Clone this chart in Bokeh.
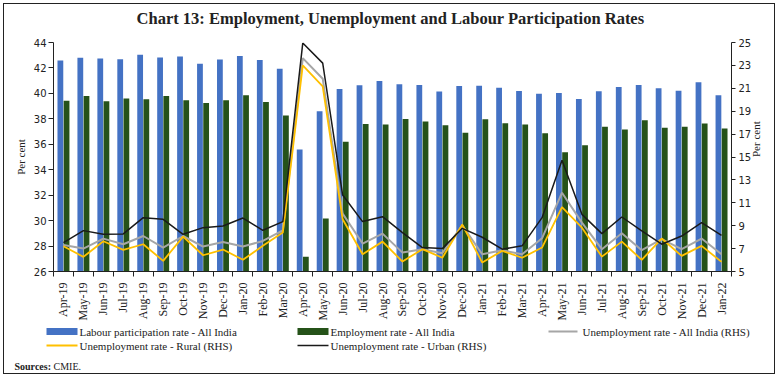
import numpy as np
from bokeh.plotting import figure
from bokeh.models import (Range1d, LinearAxis, FixedTicker, ColumnDataSource)
from bokeh.core.properties import value
from bokeh.embed import file_html
from bokeh.resources import INLINE

months = ["Apr-19", "May-19", "Jun-19", "Jul-19", "Aug-19", "Sep-19", "Oct-19",
          "Nov-19", "Dec-19", "Jan-20", "Feb-20", "Mar-20", "Apr-20", "May-20",
          "Jun-20", "Jul-20", "Aug-20", "Sep-20", "Oct-20", "Nov-20", "Dec-20",
          "Jan-21", "Feb-21", "Mar-21", "Apr-21", "May-21", "Jun-21", "Jul-21",
          "Aug-21", "Sep-21", "Oct-21", "Nov-21", "Dec-21", "Jan-22"]

lpr = [42.59, 42.80, 42.75, 42.69, 43.03, 42.82, 42.90, 42.33, 42.67, 42.93,
       42.63, 41.94, 35.59, 38.60, 40.34, 40.63, 40.97, 40.71, 40.66, 40.14,
       40.58, 40.61, 40.45, 40.18, 39.98, 40.03, 39.56, 40.16, 40.50, 40.66,
       40.40, 40.21, 40.87, 39.85]

emp = [39.43, 39.80, 39.38, 39.59, 39.54, 39.80, 39.46, 39.25, 39.46, 39.85,
       39.33, 38.26, 27.16, 30.16, 36.19, 37.60, 37.55, 37.99, 37.79, 37.50,
       36.90, 37.97, 37.66, 37.55, 36.87, 35.38, 35.93, 37.37, 37.16, 37.89,
       37.29, 37.37, 37.63, 37.24]

ur_all = [7.32, 7.00, 7.87, 7.38, 8.10, 7.09, 8.10, 7.18, 7.58, 7.18,
          7.67, 8.60, 23.64, 21.84, 10.05, 7.44, 8.31, 6.65, 6.95, 6.60,
          9.03, 6.51, 6.86, 6.50, 7.90, 11.88, 9.27, 6.95, 8.34, 6.86,
          7.82, 6.95, 7.88, 6.51]

ur_rural = [7.20, 6.28, 7.64, 6.89, 7.38, 5.93, 8.05, 6.42, 6.92, 6.02,
            7.24, 8.40, 23.00, 21.17, 9.56, 6.51, 7.61, 5.87, 6.95, 6.20,
            9.10, 5.78, 6.80, 6.20, 7.09, 10.63, 8.83, 6.30, 7.61, 6.02,
            7.88, 6.36, 7.24, 5.84]

ur_urban = [7.53, 8.57, 8.25, 8.28, 9.70, 9.56, 8.25, 8.83, 8.98, 9.67,
            8.60, 9.36, 24.95, 23.20, 11.68, 9.36, 9.79, 8.40, 7.09, 7.00,
            8.77, 7.99, 6.95, 7.24, 9.70, 14.72, 9.99, 8.31, 9.76, 8.54,
            7.38, 8.10, 9.27, 8.16]

left_ticks = list(range(26, 45, 2))
right_ticks = list(range(5, 26, 2))

series_labels = ["Labour participation rate - All India",
                 "Employment rate - All India",
                 "Unemployment rate - All India (RHS)",
                 "Unemployment rate - Rural (RHS)",
                 "Unemployment rate - Urban (RHS)"]
title_text = "Chart 13: Employment, Unemployment and Labour Participation Rates"

C_LPR, C_EMP, C_ALL, C_RUR, C_URB = "#4472C4", "#255219", "#A6A6A6", "#FFC000", "#1A1A1A"
TXT = "#222222"
BORDER = "1px solid #222"
SERIF = "Liberation Serif"
SANS = "DejaVu Sans"

n = len(months)
xs = np.arange(n)
src = ColumnDataSource(dict(x=xs, xl=xs - 0.155, xr=xs + 0.155, lpr=lpr, emp=emp,
                            ua=ur_all, ur=ur_rural, uu=ur_urban))

W = 772


def blank(height):
    fig = figure(width=W, height=height, output_backend="svg", toolbar_location=None,
                 x_range=Range1d(0, W), y_range=Range1d(height, 0),
                 x_axis_location=None, y_axis_location=None,
                 min_border_left=0, min_border_right=0, min_border_top=0,
                 min_border_bottom=0)
    fig.xgrid.visible = False
    fig.ygrid.visible = False
    fig.outline_line_color = None
    fig.border_fill_color = "white"
    fig.background_fill_color = "white"
    return fig


# ---- header with title ----
HH = 30
h = blank(HH)
h.text(x=[386], y=[14], text=[title_text], text_font=value(SERIF),
       text_font_style="bold", text_font_size="16.5px", text_color=TXT,
       text_align="center", text_baseline="middle")
h.styles = {"border-top": BORDER, "border-left": BORDER, "border-right": BORDER,
            "margin-left": "3px", "margin-top": "3px"}

# ---- main chart ----
p = figure(width=W, height=292, output_backend="svg", toolbar_location=None,
           x_range=Range1d(-0.5, n - 0.5), y_range=Range1d(26, 44),
           min_border_left=49, min_border_right=45, min_border_top=9,
           min_border_bottom=54)
p.extra_y_ranges = {"rhs": Range1d(5, 25)}
p.xgrid.visible = False
p.ygrid.visible = False
p.outline_line_color = None
p.background_fill_color = "white"
p.border_fill_color = "white"
p.styles = {"border-left": BORDER, "border-right": BORDER, "margin-left": "3px"}

p.vbar(x="xl", top="lpr", bottom=26, width=0.29, source=src,
       fill_color=C_LPR, line_color=None)
p.vbar(x="xr", top="emp", bottom=26, width=0.29, source=src,
       fill_color=C_EMP, line_color=None)
p.line("x", "ua", source=src, y_range_name="rhs", line_color=C_ALL, line_width=2)
p.line("x", "ur", source=src, y_range_name="rhs", line_color=C_RUR, line_width=1.8)
p.line("x", "uu", source=src, y_range_name="rhs", line_color=C_URB, line_width=1.5)

# x axis
xa = p.xaxis[0]
xa.ticker = FixedTicker(ticks=list(xs), minor_ticks=[i - 0.5 for i in range(n + 1)])
xa.major_label_overrides = {int(i): m for i, m in zip(xs, months)}
xa.major_label_orientation = np.pi / 2
xa.major_tick_out = 0
xa.major_tick_in = 0
xa.minor_tick_out = 5
xa.minor_tick_in = 0
xa.major_label_standoff = 6
xa.major_label_text_font = SERIF
xa.major_label_text_font_size = "12px"
xa.major_label_text_color = TXT
xa.axis_line_color = TXT
xa.minor_tick_line_color = TXT

# left axis
ya = p.yaxis[0]
ya.ticker = FixedTicker(ticks=left_ticks)
ya.major_tick_out = 5
ya.major_tick_in = 0
ya.minor_tick_line_color = None
ya.major_label_standoff = 2
ya.major_label_text_font = SANS
ya.major_label_text_font_size = "10px"
ya.major_label_text_color = TXT
ya.axis_label = "Per cent"
ya.axis_label_text_font = SERIF
ya.axis_label_text_font_size = "11px"
ya.axis_label_text_font_style = "normal"
ya.axis_label_text_color = TXT
ya.axis_label_standoff = 4
ya.axis_line_color = TXT
ya.major_tick_line_color = TXT

# right axis
ra = LinearAxis(y_range_name="rhs", ticker=FixedTicker(ticks=right_ticks))
ra.major_tick_out = 4
ra.major_tick_in = 0
ra.minor_tick_line_color = None
ra.major_label_standoff = 3
ra.major_label_text_font = SANS
ra.major_label_text_font_size = "10px"
ra.major_label_text_color = TXT
ra.axis_label = "Per cent"
ra.axis_label_text_font = SERIF
ra.axis_label_text_font_size = "11px"
ra.axis_label_text_font_style = "normal"
ra.axis_label_text_color = TXT
ra.axis_label_standoff = 2
ra.axis_line_color = TXT
ra.major_tick_line_color = TXT
if "axis_label_orientation" in ra.properties():
    ra.axis_label_orientation = np.pi / 2
p.add_layout(ra, "right")

# ---- footer: legend + source ----
FH = 49
f = blank(FH)
f.styles = {"border-bottom": BORDER, "border-left": BORDER, "border-right": BORDER,
            "margin-left": "3px"}

col_x = [42, 293, 544]
row_y = [6, 20]
sw = 31
f.quad(left=[col_x[0], col_x[1]], right=[col_x[0] + sw, col_x[1] + sw],
       top=[row_y[0] - 3.5] * 2, bottom=[row_y[0] + 3.5] * 2,
       fill_color=[C_LPR, C_EMP], line_color=None)
f.segment(x0=[col_x[2], col_x[0], col_x[1]], y0=[row_y[0], row_y[1], row_y[1]],
          x1=[col_x[2] + 29, col_x[0] + sw, col_x[1] + sw],
          y1=[row_y[0], row_y[1], row_y[1]],
          line_color=[C_ALL, C_RUR, C_URB], line_width=[2, 1.8, 1.5])
f.text(x=[col_x[0] + 33, col_x[1] + 33, col_x[2] + 34, col_x[0] + 33, col_x[1] + 33],
       y=[row_y[0], row_y[0], row_y[0], row_y[1], row_y[1]],
       text=series_labels, text_font=value(SERIF), text_font_size="11px",
       text_color=TXT, text_baseline="middle", text_align="left")
f.text(x=[10], y=[41], text=["Sources:"], text_font=value(SERIF),
       text_font_style="bold", text_font_size="10px", text_color=TXT,
       text_baseline="alphabetic")
f.text(x=[49], y=[41], text=["CMIE."], text_font=value(SERIF),
       text_font_size="10px", text_color=TXT, text_baseline="alphabetic")

open("out.html", "w").write(file_html([h, p, f], INLINE))
